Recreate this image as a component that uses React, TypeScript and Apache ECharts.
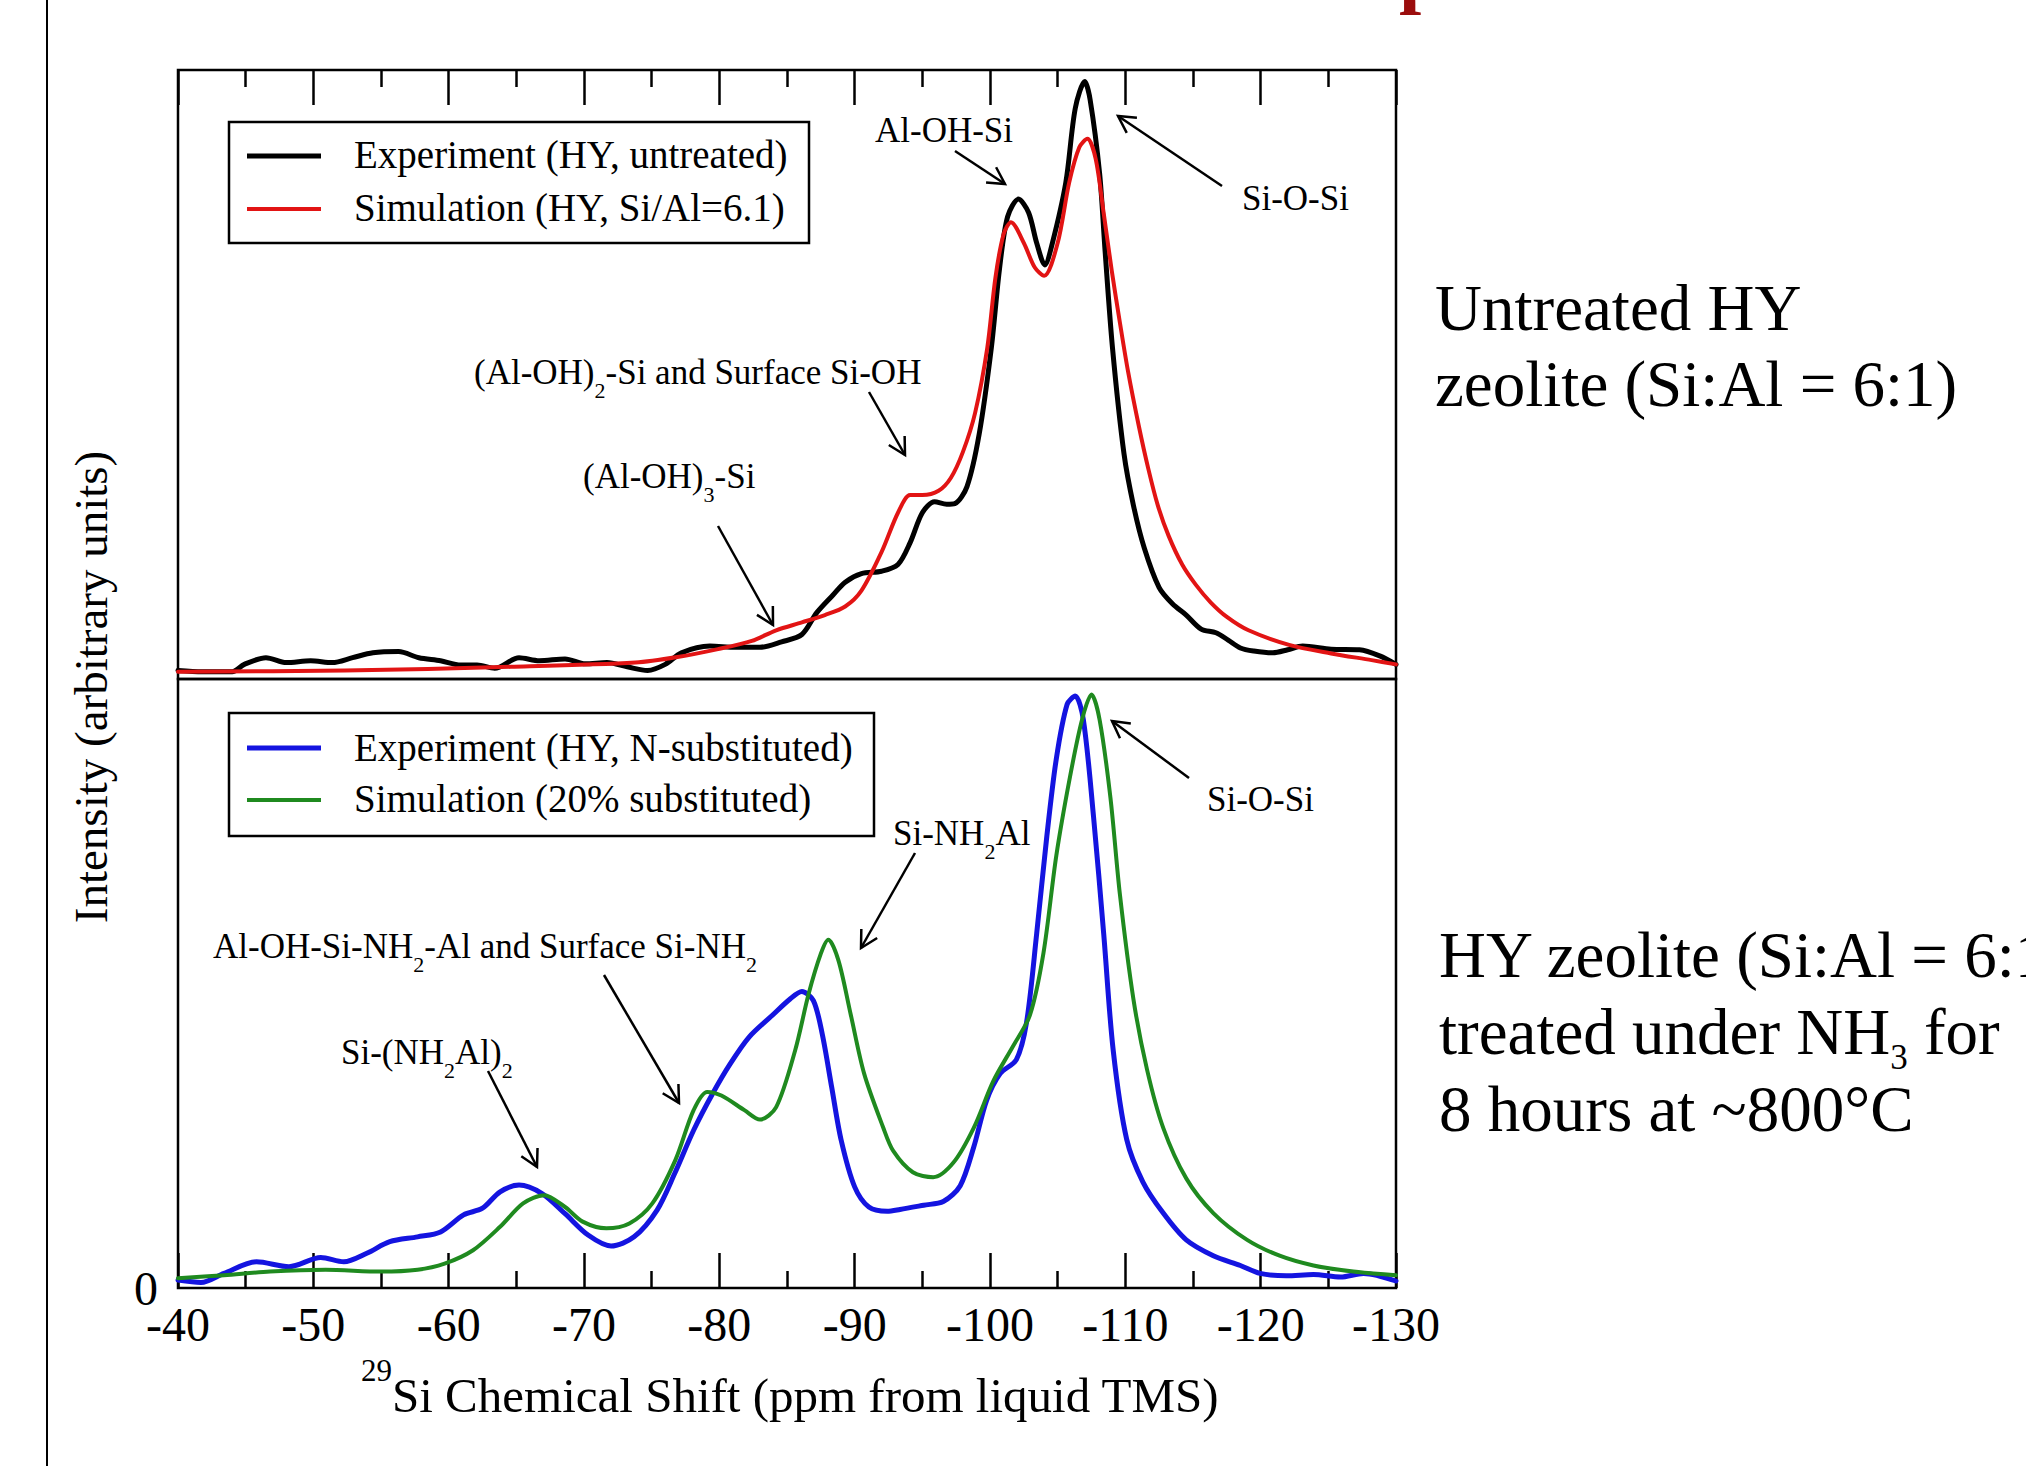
import React, { useEffect, useRef } from "react";
import * as echarts from "echarts";

const FONT = '"Liberation Serif", "Times New Roman", Times, serif';

// x axis (29Si chemical shift, ppm), drawn from -40 (left) to -130 (right)
const shiftMin = -130;
const shiftMax = -40;
const shiftStep = 10;

// ---- top panel: untreated HY ----
const untreatedExpPpm = [-40, -41.8, -44.0, -44.9, -46.5, -48.0, -49.8, -51.4, -52.9, -54.4, -56.3, -57.8, -59.4, -60.9, -62.1, -63.4, -65.2, -66.7, -68.6, -70.1, -71.7, -73.2, -74.7, -76.0, -77.2, -79.3, -81.2, -83.0, -84.6, -86.1, -87.2, -88.4, -89.3, -90.5, -92.0, -93.2, -94.1, -95.0, -95.9, -96.8, -97.4, -98.3, -99.2, -100.1, -100.7, -101.3, -102.1, -102.85, -103.45, -104.05, -104.6, -105.6, -106.3, -107.0, -107.4, -108.1, -108.5, -109.05, -109.9, -110.6, -111.4, -112.5, -113.5, -114.5, -115.6, -116.7, -117.6, -118.5, -119.5, -120.9, -122.0, -123.1, -125.2, -127.3, -128.8, -130];
const untreatedExpInt = [1.4, 1.2, 1.2, 2.4, 3.5, 2.7, 3.0, 2.7, 3.5, 4.3, 4.5, 3.5, 3.0, 2.3, 2.3, 1.75, 3.5, 3.0, 3.3, 2.5, 2.7, 2.0, 1.4, 2.4, 4.3, 5.4, 5.2, 5.2, 6.1, 7.3, 10.9, 13.8, 15.9, 17.3, 17.7, 18.8, 22.4, 27.3, 29.1, 28.7, 28.8, 31.6, 40.2, 54.4, 67.3, 75.9, 78.8, 76.6, 71.6, 68.0, 71.5, 81.5, 93.7, 98.1, 95.1, 83.0, 70.4, 54.4, 37.0, 28.5, 21.5, 15.0, 12.3, 10.5, 8.2, 7.6, 6.4, 5.1, 4.6, 4.3, 4.8, 5.4, 4.9, 4.8, 3.8, 2.4];

const untreatedSimPpm = [-40, -52.3, -64.6, -73.8, -76.9, -79.9, -82.4, -84.2, -86.1, -87.8, -89.3, -90.5, -92.0, -93.2, -94.1, -95.0, -96.2, -97.1, -98.0, -98.9, -99.8, -100.4, -101.0, -101.55, -102.5, -103.3, -104.0, -105.0, -105.85, -106.6, -107.2, -107.8, -108.4, -109.0, -109.6, -110.2, -111.0, -111.7, -112.4, -113.2, -114.2, -115.2, -116.3, -117.5, -119.1, -122.1, -125.2, -128.2, -130];
const untreatedSimInt = [1.2, 1.4, 2.0, 2.7, 3.6, 4.9, 6.25, 8.0, 9.3, 10.5, 11.9, 14.5, 20.9, 27.3, 30.2, 30.2, 30.9, 33.0, 37.3, 43.7, 54.4, 65.9, 73.0, 75.0, 71.6, 67.6, 66.2, 71.6, 81.5, 87.3, 88.7, 85.5, 76.5, 67.0, 58.5, 50.5, 41.5, 34.5, 28.5, 23.5, 18.8, 15.5, 12.6, 10.2, 8.0, 5.6, 4.2, 3.1, 2.4];

// ---- bottom panel: N-substituted HY ----
const nExpPpm = [-40, -41.7, -43.4, -45.8, -48.2, -50.55, -52.25, -53.95, -55.65, -57.7, -59.4, -61.1, -62.5, -63.8, -65.2, -66.9, -68.6, -70.3, -72.0, -73.7, -75.4, -76.7, -78.1, -79.5, -80.8, -82.2, -83.9, -85.25, -86.1, -86.95, -87.6, -88.3, -89.0, -90.0, -91.05, -92.4, -93.35, -95.1, -96.55, -97.8, -98.8, -99.75, -100.75, -101.95, -102.7, -103.45, -104.2, -104.9, -105.7, -106.3, -106.9, -107.65, -108.4, -109.1, -110.1, -111.3, -112.8, -114.5, -116.5, -118.5, -119.95, -121.9, -123.9, -125.9, -127.6, -130];
const nExpInt = [1.3, 0.9, 2.4, 4.3, 3.5, 5.0, 4.3, 5.7, 7.6, 8.4, 9.2, 12.0, 13.1, 15.8, 16.9, 15.5, 12.2, 8.7, 6.9, 8.4, 12.8, 18.8, 25.9, 31.9, 36.8, 41.2, 44.75, 47.5, 48.7, 47.2, 41.75, 33.0, 24.3, 16.6, 13.3, 12.6, 12.9, 13.6, 14.2, 16.8, 23.15, 30.8, 35.2, 37.5, 43.6, 58.2, 74.2, 86.9, 95.85, 97.2, 93.3, 77.4, 58.2, 39.1, 24.4, 17.4, 12.3, 7.9, 5.3, 3.7, 2.4, 2.0, 2.2, 1.8, 2.4, 1.15];

const nSimPpm = [-40, -43.4, -46.8, -50.9, -55.0, -57.7, -59.7, -61.8, -63.8, -65.5, -67.05, -68.6, -69.9, -71.65, -73.35, -75.05, -76.75, -78.1, -79.1, -80.15, -81.85, -83.0, -84.2, -85.6, -86.6, -87.5, -88.05, -88.8, -89.7, -90.7, -92.1, -92.85, -94.3, -95.8, -97.3, -98.8, -100.25, -101.7, -102.95, -103.95, -104.9, -105.9, -106.8, -107.5, -108.1, -108.9, -109.6, -110.6, -111.6, -112.8, -114.5, -116.5, -119.0, -121.4, -123.9, -126.85, -130];
const nSimInt = [1.6, 2.1, 2.7, 3.0, 2.7, 3.0, 4.0, 6.2, 10.05, 13.9, 15.25, 13.3, 10.9, 9.8, 10.6, 13.9, 21.0, 29.2, 32.2, 31.6, 29.2, 27.65, 29.7, 39.0, 48.3, 54.9, 57.2, 53.8, 45.0, 35.2, 26.4, 22.5, 19.0, 18.2, 20.6, 26.3, 34.0, 39.7, 44.8, 55.0, 71.0, 83.8, 93.3, 97.45, 93.3, 80.5, 64.6, 47.4, 35.9, 26.3, 18.0, 12.3, 7.9, 5.3, 3.7, 2.7, 2.1];

const seriesNames = [
  "Experiment (HY, untreated)",
  "Simulation (HY, Si/Al=6.1)",
  "Experiment (HY, N-substituted)",
  "Simulation (20% substituted)",
];
const seriesColors = ["#000000", "#e21414", "#1414e0", "#1f8a1f"];
const seriesWidths = [5, 4, 5, 4];

function pairs(xs: number[], ys: number[]) {
  return xs.map((x, i) => [x, ys[i]]);
}

function arrow(x1: number, y1: number, x2: number, y2: number) {
  const ang = Math.atan2(y2 - y1, x2 - x1);
  const L = 19;
  const a = 0.5;
  const p1 = [x2 - L * Math.cos(ang - a), y2 - L * Math.sin(ang - a)];
  const p2 = [x2 - L * Math.cos(ang + a), y2 - L * Math.sin(ang + a)];
  return [
    { type: "line", shape: { x1, y1, x2, y2 }, style: { stroke: "#000", lineWidth: 2.5 }, z: 10 },
    {
      type: "polyline",
      shape: { points: [p1, [x2, y2], p2] },
      style: { stroke: "#000", lineWidth: 2.5, fill: null },
      z: 10,
    },
  ];
}

const annRich = {
  m: { fontFamily: FONT, fontSize: 35, height: 35, verticalAlign: "top", fill: "#000", color: "#000" },
  s: { fontFamily: FONT, fontSize: 22, height: 22, verticalAlign: "top", padding: [25, 0, 0, 0], fill: "#000", color: "#000" },
};

function annText(x: number, cy: number, text: string) {
  return {
    type: "text",
    x,
    y: cy - 17.5,
    z: 10,
    style: {
      text,
      rich: annRich,
      fontFamily: FONT,
      fontSize: 35,
      fill: "#000",
      align: "left",
      verticalAlign: "top",
      textAlign: "left",
      textVerticalAlign: "top",
    },
  };
}

function plainText(x: number, cy: number, text: string, size: number, lineHeight?: number) {
  return {
    type: "text",
    x,
    y: cy,
    z: 10,
    style: {
      text,
      fontFamily: FONT,
      fontSize: size,
      lineHeight: lineHeight || size,
      fill: "#000",
      align: "left",
      verticalAlign: "middle",
      textAlign: "left",
      textVerticalAlign: "middle",
    },
  };
}

function legendBox(x: number, y: number, w: number, h: number, items: { idx: number; ly: number; ty: number }[]) {
  const els: any[] = [
    { type: "rect", shape: { x, y, width: w, height: h }, style: { fill: null, stroke: "#000", lineWidth: 2.5 }, z: 10 },
  ];
  items.forEach((it) => {
    els.push({
      type: "line",
      shape: { x1: 247, y1: it.ly, x2: 321, y2: it.ly },
      style: { stroke: seriesColors[it.idx], lineWidth: seriesWidths[it.idx] },
      z: 10,
    });
    els.push(plainText(354, it.ty, seriesNames[it.idx], 39));
  });
  return els;
}

export default function App() {
  const ref = useRef<HTMLDivElement>(null);

  useEffect(() => {
    document.body.style.margin = "0";
    document.body.style.overflow = "hidden";
    const chart = echarts.init(ref.current as HTMLDivElement, null, { renderer: "svg" });

    const xAxisBase = {
      type: "value",
      min: shiftMin,
      max: shiftMax,
      interval: shiftStep,
      inverse: true,
      axisLine: { show: false, onZero: false },
      axisTick: { show: true, inside: true, length: 35, lineStyle: { color: "#000", width: 2.5 } },
      minorTick: { show: true, splitNumber: 2, length: 17, lineStyle: { color: "#000", width: 2.5 } },
      splitLine: { show: false },
      minorSplitLine: { show: false },
    };

    const lineSeries = (idx: number, data: number[][], axis: number, z: number) => ({
      name: seriesNames[idx],
      type: "line",
      xAxisIndex: axis,
      yAxisIndex: axis,
      data,
      showSymbol: false,
      symbol: "none",
      smooth: 0.3,
      lineStyle: { color: seriesColors[idx], width: seriesWidths[idx], join: "round", cap: "round" },
      itemStyle: { color: seriesColors[idx] },
      z,
    });

    const graphic: any[] = [
      // left rule of the slide
      { type: "line", shape: { x1: 47, y1: 0, x2: 47, y2: 1466 }, style: { stroke: "#000", lineWidth: 2 } },
      // cut-off title glyph at the top edge
      {
        type: "text",
        x: 1399,
        y: -29,
        style: { text: "p", fontFamily: FONT, fontSize: 80, fontWeight: "bold", fill: "#9b0d0d", verticalAlign: "middle", textVerticalAlign: "middle" },
      },
      // y axis title
      {
        type: "text",
        x: 91,
        y: 687,
        rotation: Math.PI / 2,
        style: {
          text: "Intensity (arbitrary units)",
          fontFamily: FONT,
          fontSize: 47,
          fill: "#000",
          align: "center",
          verticalAlign: "middle",
          textAlign: "center",
          textVerticalAlign: "middle",
        },
      },
      // x axis title with superscript
      {
        type: "text",
        x: 361,
        y: 1355,
        style: {
          text: "{sup|29}{main|Si Chemical Shift (ppm from liquid TMS)}",
          fontFamily: FONT,
          fontSize: 49,
          fill: "#000",
          align: "left",
          verticalAlign: "top",
          textAlign: "left",
          textVerticalAlign: "top",
          rich: {
            sup: { fontFamily: FONT, fontSize: 31, height: 31, verticalAlign: "top", fill: "#000", color: "#000" },
            main: { fontFamily: FONT, fontSize: 49, height: 49, padding: [15.5, 0, 0, 0], verticalAlign: "top", fill: "#000", color: "#000" },
          },
        },
      },
      // legends
      ...legendBox(229, 122, 580, 121, [
        { idx: 0, ly: 156, ty: 154 },
        { idx: 1, ly: 209, ty: 207 },
      ]),
      ...legendBox(229, 713, 645, 123, [
        { idx: 2, ly: 748, ty: 747 },
        { idx: 3, ly: 800, ty: 798 },
      ]),
      // annotations, top panel
      annText(875, 130, "{m|Al-OH-Si}"),
      annText(1242, 198, "{m|Si-O-Si}"),
      annText(474, 372, "{m|(Al-OH)}{s|2}{m|-Si and Surface Si-OH}"),
      annText(583, 476, "{m|(Al-OH)}{s|3}{m|-Si}"),
      ...arrow(955, 151, 1005, 184),
      ...arrow(1222, 186, 1118, 116),
      ...arrow(869, 392, 905, 455),
      ...arrow(718, 526, 773, 625),
      // annotations, bottom panel
      annText(893, 833, "{m|Si-NH}{s|2}{m|Al}"),
      annText(213, 946, "{m|Al-OH-Si-NH}{s|2}{m|-Al and Surface Si-NH}{s|2}"),
      annText(341, 1052, "{m|Si-(NH}{s|2}{m|Al)}{s|2}"),
      annText(1207, 799, "{m|Si-O-Si}"),
      ...arrow(915, 853, 861, 948),
      ...arrow(604, 975, 679, 1103),
      ...arrow(488, 1071, 537, 1167),
      ...arrow(1189, 778, 1112, 721),
      // right-hand captions
      plainText(1435, 308, "Untreated HY", 65, 60),
      plainText(1435, 384, "zeolite (Si:Al = 6:1)", 65, 60),
      plainText(1439, 955, "HY zeolite (Si:Al = 6:1)", 65, 60),
      {
        type: "text",
        x: 1439,
        y: 999,
        z: 10,
        style: {
          text: "{m|treated under NH}{s|3}{m| for}",
          fontFamily: FONT,
          fontSize: 65,
          fill: "#000",
          align: "left",
          verticalAlign: "top",
          textAlign: "left",
          textVerticalAlign: "top",
          rich: {
            m: { fontFamily: FONT, fontSize: 65, height: 65, verticalAlign: "top", fill: "#000", color: "#000" },
            s: { fontFamily: FONT, fontSize: 35, height: 33, padding: [42, 0, 0, 0], verticalAlign: "top", fill: "#000", color: "#000" },
          },
        },
      },
      plainText(1439, 1109, "8 hours at ~800°C", 65, 60),
    ];

    chart.setOption({
      animation: false,
      backgroundColor: "#ffffff",
      grid: [
        { left: 178, top: 70, width: 1218, height: 609, show: true, borderColor: "#000", borderWidth: 2.5, backgroundColor: "transparent", containLabel: false },
        { left: 178, top: 679, width: 1218, height: 609, show: true, borderColor: "#000", borderWidth: 2.5, backgroundColor: "transparent", containLabel: false },
      ],
      xAxis: [
        { ...xAxisBase, gridIndex: 0, position: "top", axisLabel: { show: false } },
        {
          ...xAxisBase,
          gridIndex: 1,
          position: "bottom",
          axisLabel: {
            show: true,
            fontFamily: FONT,
            fontSize: 48,
            lineHeight: 34,
            color: "#000",
            margin: 19,
            showMinLabel: true,
            showMaxLabel: true,
          },
        },
      ],
      yAxis: [
        { type: "value", gridIndex: 0, min: 0, max: 100, show: false, splitLine: { show: false } },
        {
          type: "value",
          gridIndex: 1,
          min: 0,
          max: 100,
          interval: 100,
          axisLine: { show: false, onZero: false },
          axisTick: { show: false },
          splitLine: { show: false },
          axisLabel: {
            fontFamily: FONT,
            fontSize: 48,
            lineHeight: 34,
            color: "#000",
            margin: 20,
            formatter: (v: number) => (v === 0 ? "0" : ""),
          },
        },
      ],
      series: [
        lineSeries(0, pairs(untreatedExpPpm, untreatedExpInt), 0, 2),
        lineSeries(1, pairs(untreatedSimPpm, untreatedSimInt), 0, 3),
        lineSeries(2, pairs(nExpPpm, nExpInt), 1, 2),
        lineSeries(3, pairs(nSimPpm, nSimInt), 1, 3),
      ],
      graphic,
    });

    return () => chart.dispose();
  }, []);

  return <div ref={ref} style={{ width: 2026, height: 1466 }} />;
}
